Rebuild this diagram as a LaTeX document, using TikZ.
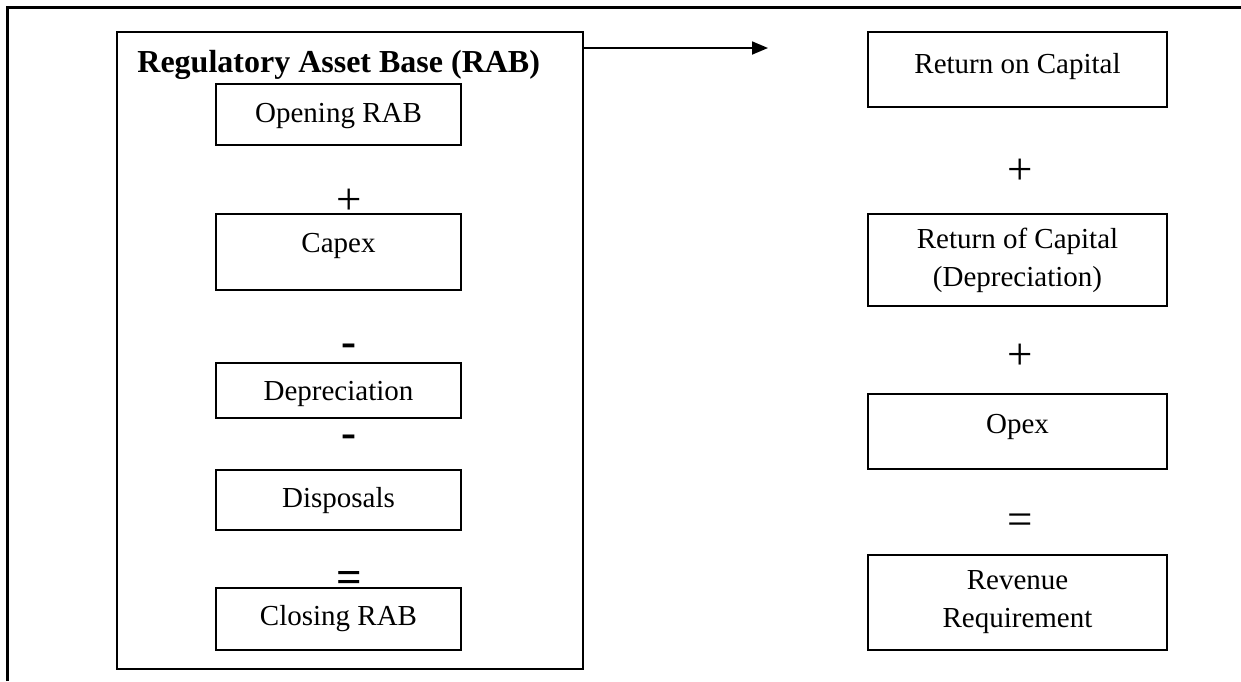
\documentclass[tikz,border=0pt]{standalone}
\usepackage{fontspec}
\setmainfont{Liberation Serif}
\usetikzlibrary{arrows}
\usetikzlibrary{arrows.meta}

\begin{document}
\begin{tikzpicture}[x=0.5pt,y=-0.5pt,
    box/.style={draw,line width=0.9pt,inner sep=0pt,anchor=north,align=center,
      font=\fontsize{14.5}{19}\selectfont},
    lbox/.style={box,minimum width=122.5pt},
    rbox/.style={box,minimum width=149.5pt},
    sign/.style={inner sep=0pt,font=\fontsize{22.5}{24}\selectfont}]
    \useasboundingbox (0,0) rectangle (1241,681);
    % page frame
    \draw[line width=1.5pt] (7,681) -- (7,7) -- (1241,7);
    % RAB roll forward
    \node[draw,line width=0.9pt,inner sep=0pt,anchor=north west,
      minimum width=233pt,minimum height=318.5pt] (rab) at (116,31) {};
    \node[anchor=base west,inner sep=0pt,font=\bfseries\fontsize{16}{19}\selectfont] (title) at (137,72) {Regulatory Asset Base (RAB)};
    \node[lbox,text height=19.5pt,text depth=11pt] (open) at (338.5,83) {Opening RAB};
    \node[sign] (plusA) at (349,202) {+};
    \node[lbox,text height=19.5pt,text depth=18.5pt] (capex) at (338.5,213) {Capex};
    \node[sign] (minusA) at (349,350) {\textbf{-}};
    \node[lbox,text height=19pt,text depth=8.5pt] (dep) at (338.5,362) {Depreciation};
    \node[sign] (minusB) at (349,441) {\textbf{-}};
    \node[lbox,text height=19pt,text depth=11pt] (disp) at (338.5,469) {Disposals};
    \node[sign] (eqA) at (349,582) {\textbf{=}};
    \node[lbox,text height=19pt,text depth=12pt] (close) at (338.5,587) {Closing RAB};
    % building blocks
    \node[rbox,text height=21pt,text depth=16.5pt] (roncap) at (1017.5,31) {Return on Capital};
    \node[sign] (plusB) at (1020,172) {+};
    \node[rbox,minimum height=46pt] (rofcap) at (1017.5,213) {Return of Capital\\(Depreciation)};
    \node[sign] (plusC) at (1020,357) {+};
    \node[rbox,text height=20pt,text depth=17.5pt] (opex) at (1017.5,393) {Opex};
    \node[sign] (eqB) at (1020,524) {=};
    \node[rbox,minimum height=47.5pt] (revreq) at (1017.5,554) {Revenue\\Requirement};
    \coordinate (arrowend) at (768,48);
    \draw[line width=0.9pt,-{Triangle[length=8pt,width=6.5pt]}] (rab.north east |- arrowend) -- (arrowend);
  \end{tikzpicture}
\end{document}
